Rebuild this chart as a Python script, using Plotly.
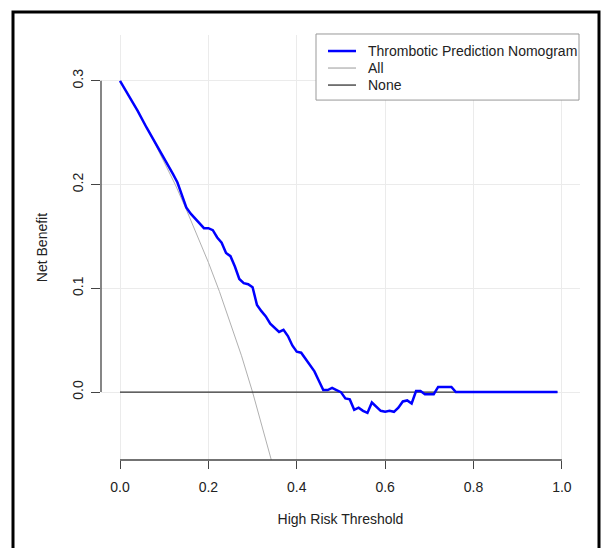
import plotly.graph_objects as go

# ---- data ----
x_ticks = [0.0, 0.2, 0.4, 0.6, 0.8, 1.0]
x_tick_labels = ["0.0", "0.2", "0.4", "0.6", "0.8", "1.0"]
y_ticks = [0.0, 0.1, 0.2, 0.3]
y_tick_labels = ["0.0", "0.1", "0.2", "0.3"]

model_threshold = [0.00, 0.02, 0.04, 0.06, 0.08, 0.10, 0.12, 0.13, 0.14, 0.15,
                   0.16, 0.17, 0.18, 0.19, 0.20, 0.21, 0.22, 0.23, 0.24, 0.25,
                   0.26, 0.27, 0.28, 0.29, 0.30, 0.305, 0.31, 0.32, 0.33, 0.34,
                   0.35, 0.36, 0.37, 0.38, 0.39, 0.40, 0.41, 0.42, 0.43, 0.44,
                   0.45, 0.46, 0.47, 0.48, 0.49, 0.50, 0.51, 0.52, 0.53, 0.54,
                   0.55, 0.56, 0.57, 0.58, 0.59, 0.60, 0.61, 0.62, 0.63, 0.64,
                   0.65, 0.66, 0.67, 0.68, 0.69, 0.70, 0.71, 0.72, 0.73, 0.74,
                   0.75, 0.76, 0.80, 0.85, 0.90, 0.95, 0.99]
model_nb = [0.300, 0.286, 0.271, 0.255, 0.240, 0.226, 0.210, 0.202, 0.191, 0.178,
            0.172, 0.167, 0.163, 0.158, 0.158, 0.156, 0.149, 0.144, 0.134, 0.131,
            0.121, 0.109, 0.105, 0.104, 0.101, 0.092, 0.084, 0.078, 0.073, 0.066,
            0.062, 0.058, 0.060, 0.054, 0.045, 0.039, 0.038, 0.032, 0.026, 0.020,
            0.011, 0.002, 0.002, 0.004, 0.002, 0.000, -0.006, -0.007, -0.017, -0.015,
            -0.018, -0.020, -0.010, -0.014, -0.018, -0.019, -0.018, -0.019, -0.015, -0.009,
            -0.008, -0.011, 0.001, 0.001, -0.002, -0.002, -0.002, 0.005, 0.005, 0.005,
            0.005, 0.000, 0.000, 0.000, 0.000, 0.000, 0.000]

all_threshold = [0.000, 0.025, 0.050, 0.075, 0.100, 0.125, 0.150, 0.175,
                 0.200, 0.225, 0.250, 0.275, 0.300, 0.325, 0.350]
all_nb = [0.300, 0.282, 0.263, 0.243, 0.222, 0.200, 0.176, 0.151,
          0.125, 0.097, 0.067, 0.035, 0.000, -0.037, -0.077]

none_threshold = [0.00, 0.99]
none_nb = [0.0, 0.0]

series_names = ["Thrombotic Prediction Nomogram", "All", "None"]
series_colors = ["#0000ff", "#b0b0b0", "#333333"]
series_widths = [2.5, 1.0, 1.2]

FONT = "Liberation Sans, Arial, Helvetica, sans-serif"

fig = go.Figure()
# draw reference lines first so the model curve sits on top
fig.add_trace(go.Scatter(x=all_threshold, y=all_nb, mode="lines", name=series_names[1],
                         line=dict(color=series_colors[1], width=series_widths[1])))
fig.add_trace(go.Scatter(x=none_threshold, y=none_nb, mode="lines", name=series_names[2],
                         line=dict(color=series_colors[2], width=series_widths[2])))
fig.add_trace(go.Scatter(x=model_threshold, y=model_nb, mode="lines", name=series_names[0],
                         line=dict(color=series_colors[0], width=series_widths[0])))

axis_color = "#444444"
fig.update_layout(
    width=605, height=548,
    margin=dict(l=101, r=25, t=35, b=88),
    paper_bgcolor="white", plot_bgcolor="white",
    font=dict(family=FONT, size=14, color="#222222"),
    showlegend=False,
    xaxis=dict(range=[-0.043, 1.041], tickvals=x_ticks, ticktext=x_tick_labels,
               showgrid=True, gridcolor="#ebebeb", gridwidth=1,
               zeroline=False, showline=False,
               ticks="outside", ticklen=8, tickcolor=axis_color, tickwidth=1,
               ticklabelstandoff=6,
               title=dict(text="High Risk Threshold", standoff=20,
                          font=dict(size=14))),
    yaxis=dict(range=[-0.0654, 0.3441], tickvals=y_ticks, ticktext=y_tick_labels,
               showgrid=True, gridcolor="#ebebeb", gridwidth=1,
               zeroline=False, showline=False, tickangle=-90,
               ticks="outside", ticklen=9, tickcolor=axis_color, tickwidth=1,
               ticklabelstandoff=2,
               title=dict(text="Net Benefit", standoff=19, font=dict(size=14))),
)

# R-style detached axis lines spanning the tick range
fig.add_shape(type="line", xref="x", yref="paper",
              x0=x_ticks[0], x1=x_ticks[-1], y0=0, y1=0,
              line=dict(color=axis_color, width=1.3))
fig.add_shape(type="line", xref="paper", yref="y",
              x0=0, x1=0, y0=y_ticks[0], y1=y_ticks[-1],
              line=dict(color=axis_color, width=1.3))

# pixel -> paper helpers for decorations
def px_x(px):
    return (px - 101) / 479

def px_y(py):
    return (459.5 - py) / 424.5

# legend box (R-style)
fig.add_shape(type="rect", xref="paper", yref="paper",
              x0=px_x(316), x1=px_x(579), y0=px_y(100), y1=px_y(34),
              line=dict(color="#999999", width=1), fillcolor="white", layer="above")
row_y = [51, 68, 85]
for name, col, w, ry in zip(series_names, series_colors, series_widths, row_y):
    fig.add_shape(type="line", xref="paper", yref="paper",
                  x0=px_x(328), x1=px_x(356), y0=px_y(ry), y1=px_y(ry),
                  line=dict(color=col, width=max(w, 1.3)), layer="above")
    fig.add_annotation(xref="paper", yref="paper", x=px_x(366), y=px_y(ry),
                       text=name, showarrow=False, xanchor="left", yanchor="middle",
                       font=dict(family=FONT, size=14, color="#222222"))

# outer black frame (cut by the bottom edge of the picture)
fig.add_shape(type="rect", xref="paper", yref="paper",
              x0=px_x(13), x1=px_x(599), y0=px_y(570), y1=px_y(12),
              line=dict(color="black", width=3))

fig.write_html("out.html")
